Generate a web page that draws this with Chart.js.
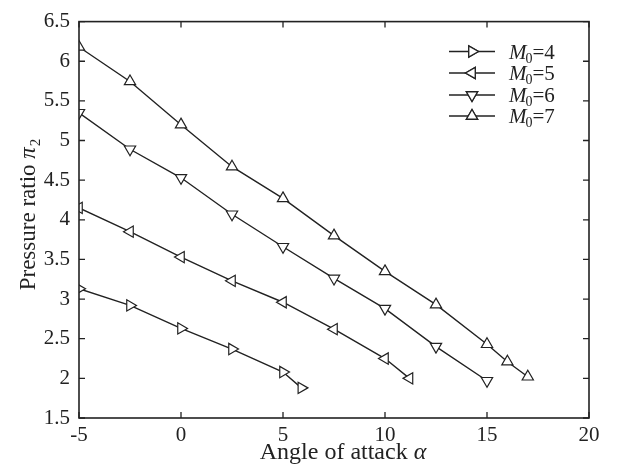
<!DOCTYPE html>
<html>
<head>
<meta charset="utf-8">
<script src="https://cdn.jsdelivr.net/npm/chart.js@4.4.1/dist/chart.umd.min.js"></script>
<style>
  html, body { margin: 0; padding: 0; background: #fff; }
  #wrap { width: 619px; height: 465px; position: relative; }
</style>
</head>
<body>
<div id="wrap"><canvas id="pr-chart"></canvas></div>
<script>
// angle of attack (deg) and pressure ratio for each free-stream Mach number
const alphaM4 = [-5, -2.5, 0, 2.5, 5, 5.9];
const piM4 = [3.13, 2.92, 2.63, 2.37, 2.08, 1.88];

const alphaM5 = [-5, -2.5, 0, 2.5, 5, 7.5, 10, 11.2];
const piM5 = [4.15, 3.85, 3.53, 3.23, 2.96, 2.62, 2.25, 2.0];

const alphaM6 = [-5, -2.5, 0, 2.5, 5, 7.5, 10, 12.5, 15];
const piM6 = [5.35, 4.89, 4.53, 4.07, 3.66, 3.26, 2.88, 2.40, 1.97];

const alphaM7 = [-5, -2.5, 0, 2.5, 5, 7.5, 10, 12.5, 15, 16, 17];
const piM7 = [6.18, 5.745, 5.2, 4.67, 4.27, 3.8, 3.35, 2.93, 2.43, 2.21, 2.02];

const machLabels = ["4", "5", "6", "7"];
const xTicks = [-5, 0, 5, 10, 15, 20];
const yTicks = [1.5, 2, 2.5, 3, 3.5, 4, 4.5, 5, 5.5, 6, 6.5];

const ink = "#222";
const serif = "'Liberation Serif', 'DejaVu Serif', serif";

function toPoints(xs, ys) {
  return xs.map((x, i) => ({ x: x, y: ys[i] }));
}

function series(label, xs, ys, rot) {
  return {
    label: label,
    data: toPoints(xs, ys),
    showLine: true,
    borderColor: ink,
    borderWidth: 1.4,
    pointStyle: "triangle",
    pointRotation: rot,
    pointRadius: 6.5,
    pointBorderWidth: 1.2,
    pointBackgroundColor: "#fff",
    pointBorderColor: ink,
    tension: 0,
  };
}

const datasets = [
  series("4", alphaM4, piM4, 90),
  series("5", alphaM5, piM5, -90),
  series("6", alphaM6, piM6, 180),
  series("7", alphaM7, piM7, 0),
];

// frame, inward ticks on all four sides, axis titles and legend
const decor = {
  id: "decor",
  afterDatasetsDraw(chart) {
    const { ctx, chartArea: a, scales } = chart;
    const sx = scales.x, sy = scales.y;
    ctx.save();
    ctx.strokeStyle = ink;
    ctx.lineWidth = 1.6;
    ctx.strokeRect(a.left, a.top, a.right - a.left, a.bottom - a.top);

    ctx.lineWidth = 1.3;
    const tl = 6;
    ctx.beginPath();
    xTicks.forEach((v) => {
      const px = sx.getPixelForValue(v);
      ctx.moveTo(px, a.bottom); ctx.lineTo(px, a.bottom - tl);
      ctx.moveTo(px, a.top); ctx.lineTo(px, a.top + tl);
    });
    yTicks.forEach((v) => {
      const py = sy.getPixelForValue(v);
      ctx.moveTo(a.left, py); ctx.lineTo(a.left + tl, py);
      ctx.moveTo(a.right, py); ctx.lineTo(a.right - tl, py);
    });
    ctx.stroke();

    ctx.fillStyle = ink;
    ctx.textBaseline = "alphabetic";

    // x title
    const xa = "Angle of attack ";
    ctx.font = "24px " + serif;
    const w1 = ctx.measureText(xa).width;
    ctx.font = "italic 24px " + serif;
    const w2 = ctx.measureText("α").width;
    let x0 = 343 - (w1 + w2) / 2;
    ctx.font = "24px " + serif;
    ctx.fillText(xa, x0, 459);
    ctx.font = "italic 24px " + serif;
    ctx.fillText("α", x0 + w1, 459);

    // y title, rotated
    ctx.save();
    ctx.translate(35, 215);
    ctx.rotate(-Math.PI / 2);
    const ya = "Pressure ratio ";
    ctx.font = "23px " + serif;
    const t1 = ctx.measureText(ya).width;
    ctx.font = "italic 23px " + serif;
    const t2 = ctx.measureText("π").width;
    ctx.font = "15px " + serif;
    const t3 = ctx.measureText("2").width;
    let y0 = -(t1 + t2 + t3) / 2;
    ctx.font = "23px " + serif;
    ctx.fillText(ya, y0, 0);
    ctx.font = "italic 23px " + serif;
    ctx.fillText("π", y0 + t1, 0);
    ctx.font = "15px " + serif;
    ctx.fillText("2", y0 + t1 + t2 + 1, 5);
    ctx.restore();

    // legend
    const rows = [51.5, 73, 95, 116];
    chart.data.datasets.forEach((ds, i) => {
      const y = rows[i];
      ctx.strokeStyle = ink;
      ctx.lineWidth = 1.3;
      ctx.beginPath();
      ctx.moveTo(449, y); ctx.lineTo(495, y);
      ctx.stroke();
      Chart.helpers.drawPoint(ctx, {
        pointStyle: "triangle",
        rotation: ds.pointRotation,
        radius: 6.5,
        borderWidth: 1.2,
      }, 472, y);
      ctx.fillStyle = "#fff";
      ctx.fill();
      ctx.stroke();

      ctx.fillStyle = ink;
      const by = y + 7;
      let tx = 509;
      ctx.font = "italic 21px " + serif;
      ctx.fillText("M", tx, by);
      tx += ctx.measureText("M").width - 1;
      ctx.font = "14px " + serif;
      ctx.fillText("0", tx, by + 4);
      tx += ctx.measureText("0").width;
      ctx.font = "21px " + serif;
      ctx.fillText("=" + machLabels[i], tx, by);
    });
    ctx.restore();
  },
};

const config = {
  type: "scatter",
  data: { datasets: datasets },
  options: {
    responsive: true,
    maintainAspectRatio: false,
    animation: false,
    layout: { padding: { top: 16, right: 30, left: 0, bottom: 0 } },
    plugins: { legend: { display: false }, tooltip: { enabled: false } },
    scales: {
      x: {
        type: "linear",
        min: -5,
        max: 20,
        grid: { display: false, drawTicks: false },
        border: { display: false },
        afterFit(scale) { scale.height = 47; },
        afterBuildTicks(scale) { scale.ticks = xTicks.map((v) => ({ value: v })); },
        ticks: {
          padding: 5,
          color: ink,
          font: { family: serif, size: 21 },
          callback: (v) => String(v),
        },
      },
      y: {
        type: "linear",
        min: 1.5,
        max: 6.5,
        grid: { display: false, drawTicks: false },
        border: { display: false },
        afterFit(scale) { scale.width = 79; },
        afterBuildTicks(scale) { scale.ticks = yTicks.map((v) => ({ value: v })); },
        ticks: {
          padding: 9,
          color: ink,
          font: { family: serif, size: 21 },
          callback: (v) => String(v),
        },
      },
    },
  },
  plugins: [decor],
};

new Chart(document.getElementById("pr-chart").getContext("2d"), config);
</script>
</body>
</html>
